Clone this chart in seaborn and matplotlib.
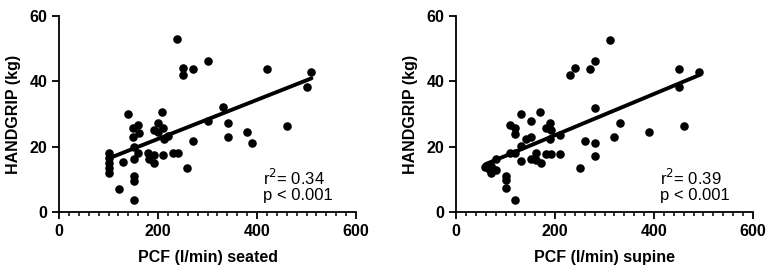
import seaborn as sns
import matplotlib.pyplot as plt
import pandas as pd
from matplotlib.ticker import MultipleLocator

# data
seated_pcf = [239, 251, 251, 270, 300, 420, 510, 500, 331, 300, 341, 341, 379, 390,
              460, 270, 259, 209, 140, 160, 150, 161, 150, 201, 211, 191, 201, 221,
              212, 152, 160, 152, 180, 192, 182, 191, 211, 231, 241, 130, 100, 100,
              100, 100, 100, 152, 152, 121, 152]
seated_hg = [52.8, 44.1, 41.9, 43.6, 46.3, 43.7, 42.9, 38.1, 32.0, 28.0, 27.2, 23.0, 24.5, 21.2,
             26.2, 21.9, 13.6, 30.6, 29.9, 26.6, 25.8, 24.1, 22.9, 27.3, 25.6, 25.1, 24.6, 23.4,
             22.3, 20.0, 18.2, 16.2, 18.2, 17.5, 16.2, 15.0, 17.4, 18.0, 18.0, 15.4, 18.0, 16.5,
             15.0, 13.5, 12.0, 11.1, 9.6, 7.2, 3.8]

supine_pcf = [311, 230, 240, 271, 280, 450, 490, 450, 280, 331, 320, 390, 461, 261, 280,
              280, 251, 210, 210, 170, 131, 151, 110, 120, 120, 190, 181, 191, 151, 141,
              190, 131, 110, 120, 161, 181, 191, 151, 161, 131, 171, 81, 59, 70, 70, 80,
              67, 100, 100, 100, 120]
supine_hg = [52.7, 41.9, 44.0, 43.6, 46.3, 43.7, 42.9, 38.1, 31.9, 27.2, 23.0, 24.5, 26.2, 21.9, 21.1,
             17.3, 13.4, 23.5, 17.9, 30.6, 29.9, 28.0, 26.6, 25.8, 24.0, 27.3, 25.6, 25.1, 23.0, 22.5,
             22.3, 20.2, 18.1, 18.1, 18.2, 17.9, 17.9, 16.2, 16.0, 15.6, 15.1, 16.3, 13.9, 14.2, 11.9, 12.9,
             13.3, 11.2, 9.8, 7.3, 3.8]

panels = [
    ("PCF (l/min) seated", seated_pcf, seated_hg, "0.34"),
    ("PCF (l/min) supine", supine_pcf, supine_hg, "0.39"),
]

sns.set_style("ticks")
plt.rcParams["font.family"] = ["Liberation Sans", "DejaVu Sans"]
for key in ["text.color", "axes.labelcolor", "xtick.color", "ytick.color", "axes.edgecolor"]:
    plt.rcParams[key] = "black"

fig = plt.figure(figsize=(7.72, 2.73), dpi=100)
lefts = [59 / 772, 456 / 772]
w = 297 / 772
b = (273 - 212.3) / 273
h = 196.6 / 273

for left, (xlabel, xs, ys, r2) in zip(lefts, panels):
    ax = fig.add_axes([left, b, w, h])
    df = pd.DataFrame({"pcf": xs, "hg": ys})
    sns.regplot(x="pcf", y="hg", data=df, ax=ax, ci=None, color="black",
                scatter_kws={"s": 38, "alpha": 1, "linewidths": 0},
                line_kws={"lw": 2.8})
    ax.set_xlim(0, 600)
    ax.set_ylim(0, 60)
    ax.set_xticks([0, 200, 400, 600])
    ax.set_yticks([0, 20, 40, 60])
    ax.xaxis.set_minor_locator(MultipleLocator(20))
    ax.tick_params(axis="both", which="major", length=5, width=1.3, labelsize=10.5)
    ax.tick_params(axis="x", which="minor", length=3, width=1.1)
    for lab in ax.get_xticklabels() + ax.get_yticklabels():
        lab.set_fontweight("bold")
        lab.set_family(["Liberation Sans Narrow", "Liberation Sans"])
        lab.set_fontsize(11.5)
    for s in ["left", "bottom"]:
        ax.spines[s].set_linewidth(1.3)
    sns.despine(ax=ax)
    ax.set_xlabel(xlabel, fontsize=11.5, fontweight="bold", labelpad=8)
    ax.set_ylabel("HANDGRIP (kg)", fontsize=11.5, fontweight="bold", labelpad=6)
    ax.text(412, 10.4, "r$^2$= " + r2, fontsize=12, va="center")
    ax.text(412, 5.0, "p < 0.001", fontsize=12, va="center")

fig.savefig("out.png", dpi=100)
